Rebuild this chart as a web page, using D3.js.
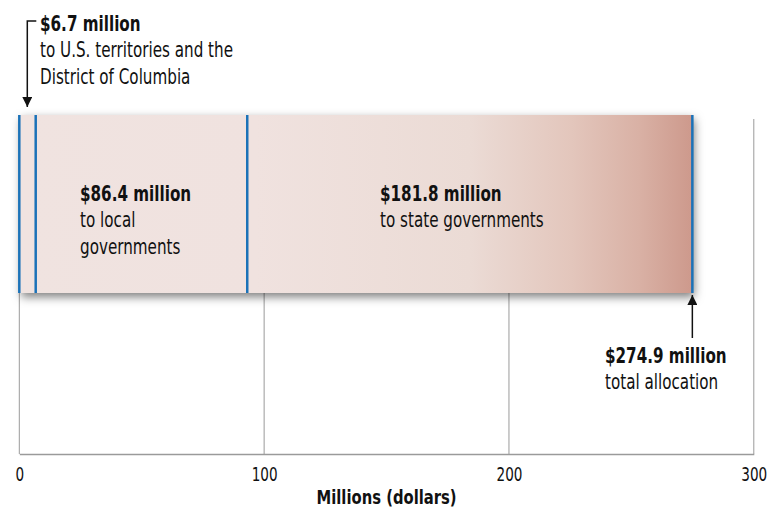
<!DOCTYPE html>
<html><head><meta charset="utf-8">
<script src="https://cdn.jsdelivr.net/npm/d3@7/dist/d3.min.js"></script>
<style>
body{margin:0;background:#fff;}
text{font-family:"DejaVu Sans",sans-serif;fill:#111;}
</style></head>
<body><svg id="c" width="775" height="512"></svg>
<script>
const categories = ["to U.S. territories and the District of Columbia", "to local governments", "to state governments"];
const amounts = [6.7, 86.4, 181.8];
const amountLabels = ["$6.7 million", "$86.4 million", "$181.8 million"];
const total = 274.9;
const totalLabel = "$274.9 million";
const tickValues = [0, 100, 200, 300];
const axisTitle = "Millions (dollars)";

const SX = 0.69; // condensed look
const svg = d3.select("#c");
const x = d3.scaleLinear().domain([0, 300]).range([19.3, 753.8]);
const barTop = 115, barBottom = 293, axisY = 454;

const defs = svg.append("defs");
const grad = defs.append("linearGradient").attr("id","g").attr("gradientUnits","userSpaceOnUse")
  .attr("x1", x(0)).attr("x2", x(total)).attr("y1",0).attr("y2",0);
[[0,"#f0e3e0"],[0.35,"#f0e2df"],[0.67,"#ebdbd5"],[0.82,"#e3c6bc"],[0.92,"#d9b1a5"],[1,"#cd998c"]]
  .forEach(([o,c]) => grad.append("stop").attr("offset",o).attr("stop-color",c));
const f = defs.append("filter").attr("id","sh").attr("x","-10%").attr("y","-30%").attr("width","120%").attr("height","160%");
f.append("feDropShadow").attr("dx",2).attr("dy",4).attr("stdDeviation",5).attr("flood-color","#000").attr("flood-opacity",0.5);
const mk = defs.append("marker").attr("id","ah").attr("viewBox","0 0 10 10").attr("refX",10).attr("refY",5)
  .attr("markerWidth",10).attr("markerHeight",10).attr("markerUnits","userSpaceOnUse").attr("orient","auto");
mk.append("path").attr("d","M0,0L10,5L0,10Z").attr("fill","#111");

// gridlines
svg.append("g").selectAll("line").data(tickValues).join("line")
  .attr("x1", d=>x(d)).attr("x2", d=>x(d))
  .attr("y1", d => d===0 ? barBottom : 119).attr("y2", axisY)
  .attr("stroke","#9a9a9a").attr("stroke-width",1);

// axis
const ax = svg.append("g").attr("transform",`translate(0,${axisY})`)
  .call(d3.axisBottom(x).tickValues(tickValues).tickSize(0).tickPadding(0).tickFormat(d3.format("d")));
ax.select(".domain").attr("stroke","#9a9a9a").attr("stroke-width",1.5);
ax.selectAll("text").attr("font-size",20).attr("font-family",null).attr("dy",null).attr("y",27)
  .attr("transform",`scale(0.68,1)`).style("fill","#111");
svg.append("text").attr("transform",`translate(${x(150)},504) scale(0.74,1)`).attr("text-anchor","middle")
  .attr("font-size",20).attr("font-weight","bold").text(axisTitle);

// stacked bar
let cum = 0;
const segs = amounts.map((v,i)=>{const s={i,start:cum,end:cum+v}; cum+=v; return s;});
const bar = svg.append("g");
bar.append("rect").attr("x", x(0)).attr("y", barTop).attr("width", x(total)-x(0)).attr("height", barBottom-barTop)
  .attr("fill","url(#g)").attr("filter","url(#sh)");
bar.selectAll("rect.seg").data(segs).join("rect").attr("class","seg")
  .attr("x", d=>x(d.start)).attr("y", barTop).attr("width", d=>x(d.end)-x(d.start)).attr("height", barBottom-barTop)
  .attr("fill","url(#g)");
const bounds = [0].concat(segs.map(d=>d.end));
bar.selectAll("line").data(bounds).join("line")
  .attr("x1", d=>x(d)).attr("x2", d=>x(d)).attr("y1", barTop).attr("y2", barBottom)
  .attr("stroke","#1b72b8").attr("stroke-width",2.5);

function label(xp, y0, lines){
  const t = svg.append("text").attr("transform",`translate(${xp},${y0}) scale(${SX},1)`).attr("font-size",22);
  lines.forEach((s,k)=>t.append("tspan").attr("x",0).attr("dy", k===0?0:26.5)
    .attr("font-weight", k===0?"bold":null).text(s));
}
label(80, 201, [amountLabels[1], "to local", "governments"]);
label(380, 201, [amountLabels[2], categories[2]]);
label(40, 31, [amountLabels[0], "to U.S. territories and the", "District of Columbia"]);
svg.append("path").attr("d",`M${x(0)+17},21H${x(0)+8}V107`).attr("fill","none").attr("stroke","#111")
  .attr("stroke-width",1.5).attr("marker-end","url(#ah)");
svg.append("line").attr("x1", x(total)).attr("x2", x(total)).attr("y1",338).attr("y2",295)
  .attr("stroke","#111").attr("stroke-width",1.5).attr("marker-end","url(#ah)");
label(605, 363, [totalLabel, "total allocation"]);
</script></body></html>
